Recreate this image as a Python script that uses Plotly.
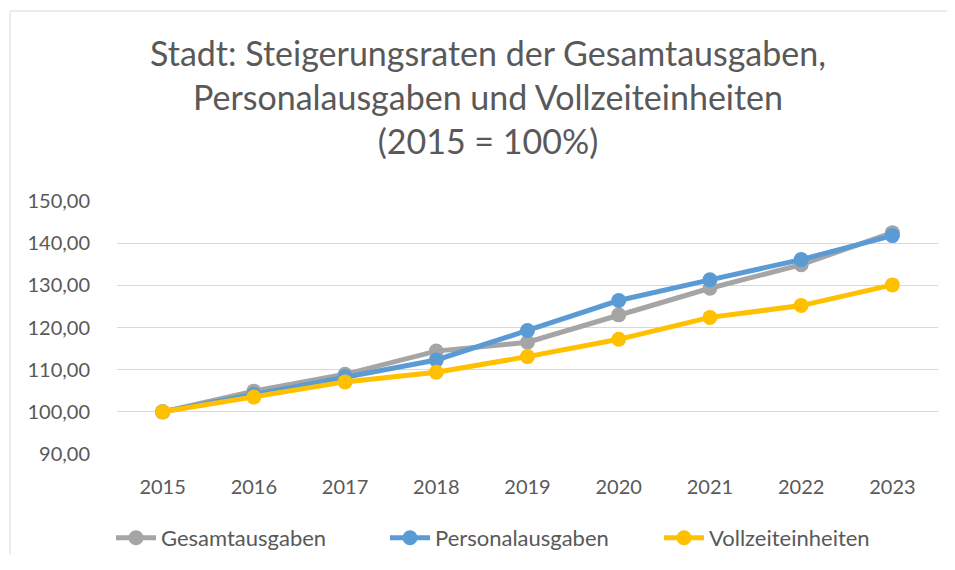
import plotly.graph_objects as go

years = ["2015", "2016", "2017", "2018", "2019", "2020", "2021", "2022", "2023"]
gesamtausgaben = [100.0, 104.9, 108.9, 114.4, 116.5, 123.0, 129.3, 134.9, 142.5]
personalausgaben = [100.0, 104.1, 108.4, 112.3, 119.3, 126.4, 131.3, 136.1, 141.8]
vollzeiteinheiten = [100.0, 103.5, 107.1, 109.4, 113.1, 117.2, 122.4, 125.2, 130.1]

series_names = ["Gesamtausgaben", "Personalausgaben", "Vollzeiteinheiten"]
series_values = [gesamtausgaben, personalausgaben, vollzeiteinheiten]
series_colors = ["#A5A5A5", "#5B9BD5", "#FFC000"]

y_ticks = [90, 100, 110, 120, 130, 140, 150]
y_ticklabels = ["90,00", "100,00", "110,00", "120,00", "130,00", "140,00", "150,00"]

title_text = ("Stadt: Steigerungsraten der Gesamtausgaben,<br>"
              "Personalausgaben und Vollzeiteinheiten<br>(2015 = 100%)")

FONT = "Lato"
TXT = "#595959"
# the page has an 8px body offset; figure sized so it fits the 955x570 window
W, H = 945, 546
# plot area in figure pixels
L, T, R, B = 109, 193, 930, 446

fig = go.Figure()
for name, vals, col in zip(series_names, series_values, series_colors):
    fig.add_trace(go.Scatter(
        x=years, y=vals, name=name, mode="lines+markers",
        line=dict(color=col, width=5),
        marker=dict(color=col, size=15),
    ))

pw, ph = R - L, B - T
bx0 = (2 - L) / pw
bx1 = (W + 60 - L) / pw
by_top = (B - 3) / ph
by_bot = (B - (H + 60)) / ph
border = dict(color="#D9D9D9", width=1)

fig.update_layout(
    width=W, height=H,
    margin=dict(l=L, r=W - R, t=T, b=H - B),
    paper_bgcolor="white", plot_bgcolor="white",
    font=dict(family=FONT, color=TXT, size=20),
    title=dict(
        text=title_text, x=480 / W, xanchor="center", xref="container",
        y=1 - 58 / H, yanchor="top", yref="container",
        font=dict(family=FONT, size=34, color=TXT),
    ),
    showlegend=True,
    legend=dict(
        orientation="h", x=103 / W, xanchor="left", xref="container",
        y=(H - 530) / H, yanchor="middle", yref="container",
        font=dict(family=FONT, size=22, color=TXT),
        entrywidth=219, itemwidth=40, traceorder="normal",
    ),
    shapes=[
        dict(type="line", xref="paper", yref="paper",
             x0=bx0, x1=bx1, y0=by_top, y1=by_top, line=border, layer="below"),
        dict(type="line", xref="paper", yref="paper",
             x0=bx0, x1=bx0, y0=by_bot, y1=by_top, line=border, layer="below"),
    ],
)

fig.update_xaxes(
    type="category", range=[-0.5, 8.5], showgrid=False, zeroline=False,
    showline=False, ticks="", ticklabelstandoff=19,
    tickfont=dict(family=FONT, size=20, color=TXT),
)
fig.update_yaxes(
    range=[90, 150], tickvals=y_ticks, ticktext=y_ticklabels,
    showgrid=True, gridcolor="#D9D9D9", gridwidth=1, zeroline=False,
    showline=False, ticks="", ticklabelstandoff=26,
    tickfont=dict(family=FONT, size=20, color=TXT),
)

fig.write_html("out.html")
